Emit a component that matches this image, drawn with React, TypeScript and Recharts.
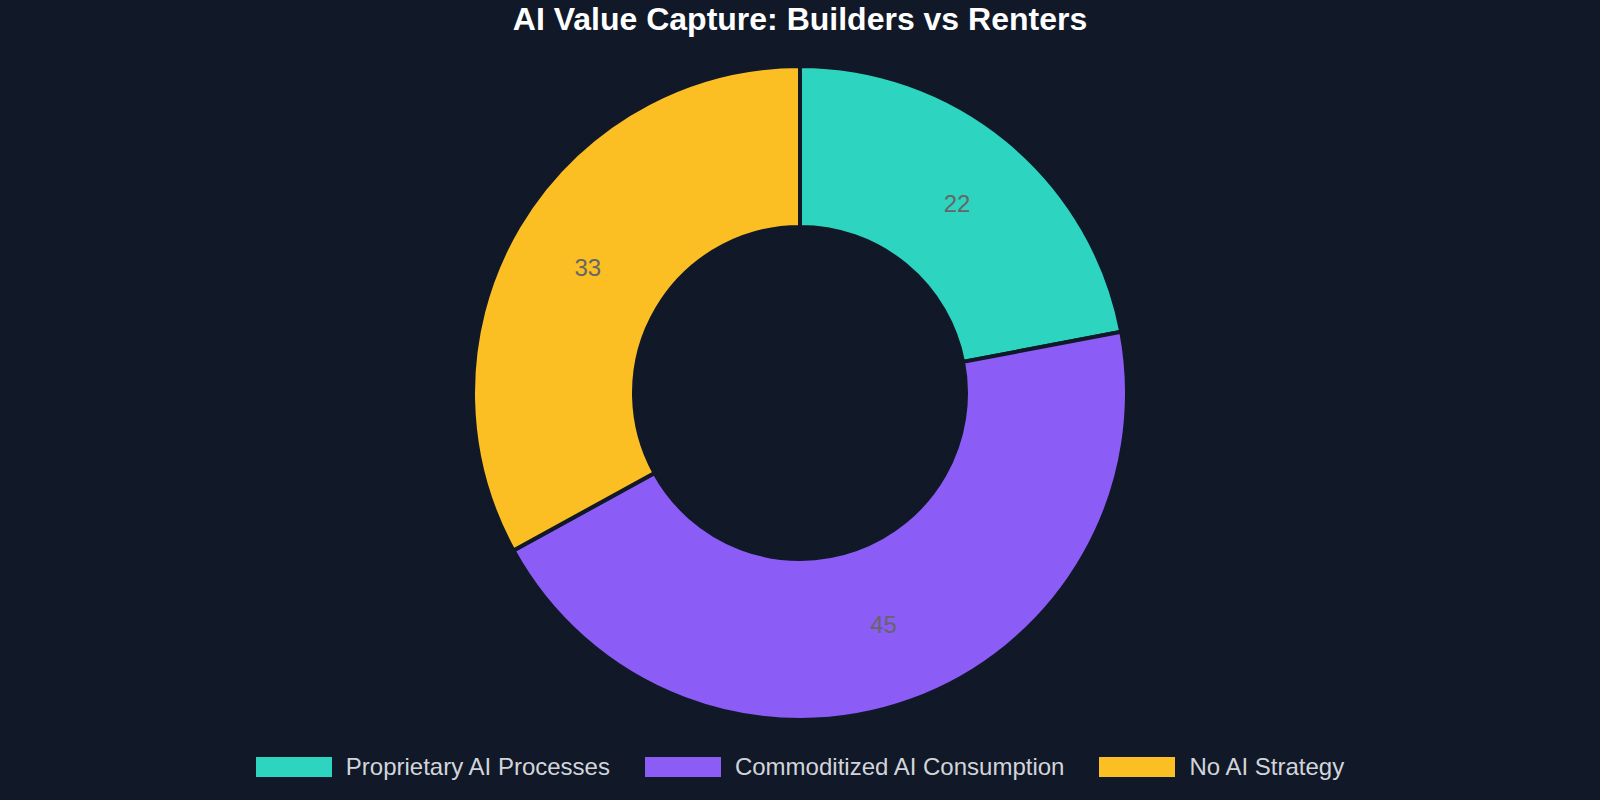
import { PieChart, Pie, Cell, Legend } from 'recharts';

const categories = ['Proprietary AI Processes', 'Commoditized AI Consumption', 'No AI Strategy'];
const shares = [22, 45, 33];
const colors = ['#2dd4bf', '#8b5cf6', '#fbbf24'];

const data = categories.map((name, i) => ({ name, value: shares[i] }));

const RADIAN = Math.PI / 180;
const FONT = '"Liberation Sans", Arial, sans-serif';

const renderLabel = (props: any) => {
  const { cx, cy, midAngle, innerRadius, outerRadius, value } = props;
  const r = (innerRadius + outerRadius) / 2;
  const x = cx + r * Math.cos(-midAngle * RADIAN);
  const y = cy + r * Math.sin(-midAngle * RADIAN);
  return (
    <text
      x={x}
      y={y}
      fill="#666666"
      fontSize={24}
      fontFamily={FONT}
      textAnchor="middle"
      dominantBaseline="central"
    >
      {value}
    </text>
  );
};

const renderLegend = () => (
  <div
    style={{
      display: 'flex',
      justifyContent: 'center',
      alignItems: 'center',
      fontFamily: FONT,
      fontSize: 24,
      color: '#d1d5db',
    }}
  >
    {categories.map((name, i) => (
      <div key={name} style={{ display: 'flex', alignItems: 'center', marginRight: i < 2 ? 35 : 0 }}>
        <span style={{ display: 'inline-block', width: 76, height: 20, background: colors[i], marginRight: 14 }} />
        <span>{name}</span>
      </div>
    ))}
  </div>
);

export default function App() {
  return (
    <div
      style={{
        position: 'fixed',
        left: 0,
        top: 0,
        width: 1600,
        height: 800,
        background: '#111827',
      }}
    >
      <div
        style={{
          position: 'absolute',
          top: 0,
          width: 1600,
          textAlign: 'center',
          fontFamily: FONT,
          fontWeight: 'bold',
          fontSize: 32,
          lineHeight: '38px',
          color: '#ffffff',
        }}
      >
        AI Value Capture: Builders vs Renters
      </div>
      <PieChart width={1600} height={800}>
        <Pie
          data={data}
          dataKey="value"
          nameKey="name"
          cx={795}
          cy={388}
          innerRadius={166}
          outerRadius={327}
          startAngle={90}
          endAngle={-270}
          stroke="#111827"
          strokeWidth={4}
          label={renderLabel}
          labelLine={false}
          isAnimationActive={false}
        >
          {data.map((d, i) => (
            <Cell key={d.name} fill={colors[i]} />
          ))}
        </Pie>
        <Legend
          content={renderLegend}
          verticalAlign="bottom"
          wrapperStyle={{ bottom: 19, left: 0, width: 1600 }}
        />
      </PieChart>
    </div>
  );
}
